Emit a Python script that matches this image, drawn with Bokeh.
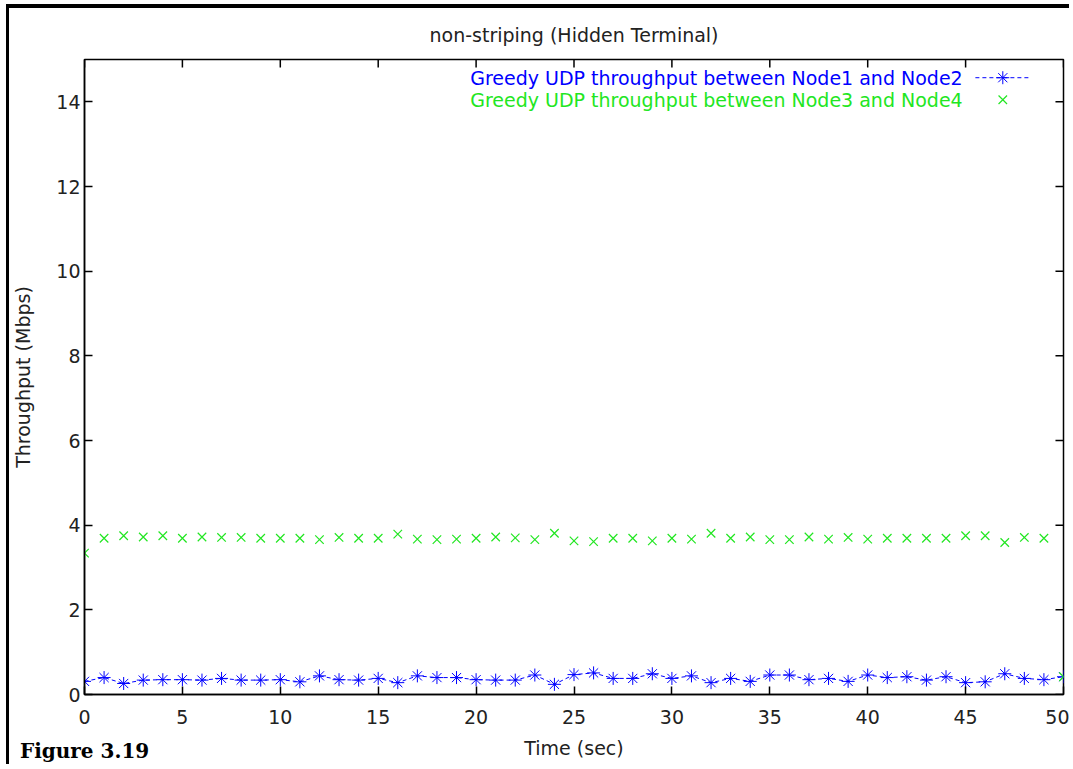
from bokeh.plotting import figure
from bokeh.models import FixedTicker, Range1d, Label, Div
from bokeh.layouts import column
from bokeh.embed import file_html
from bokeh.resources import INLINE

# ---- data ----
time_s = list(range(51))
node12 = [0.31, 0.40, 0.26, 0.34, 0.35, 0.35, 0.34, 0.38, 0.34, 0.34,
          0.35, 0.30, 0.44, 0.35, 0.34, 0.38, 0.28, 0.44, 0.40, 0.40,
          0.35, 0.34, 0.34, 0.46, 0.24, 0.47, 0.51, 0.38, 0.38, 0.49,
          0.38, 0.44, 0.28, 0.38, 0.31, 0.46, 0.46, 0.35, 0.38, 0.31,
          0.46, 0.40, 0.42, 0.34, 0.42, 0.28, 0.30, 0.49, 0.38, 0.35,
          0.42]
node34 = [3.34, 3.69, 3.75, 3.72, 3.75, 3.69, 3.72, 3.71, 3.71, 3.69,
          3.69, 3.69, 3.66, 3.71, 3.69, 3.69, 3.79, 3.67, 3.66, 3.67,
          3.69, 3.72, 3.70, 3.66, 3.81, 3.63, 3.61, 3.69, 3.69, 3.63,
          3.69, 3.67, 3.81, 3.69, 3.72, 3.66, 3.66, 3.72, 3.67, 3.71,
          3.67, 3.69, 3.69, 3.69, 3.69, 3.75, 3.75, 3.59, 3.71, 3.69,
          0.42]
x_ticks = [0, 5, 10, 15, 20, 25, 30, 35, 40, 45, 50]
y_ticks = [0, 2, 4, 6, 8, 10, 12, 14]
label1 = "Greedy UDP throughput between Node1 and Node2"
label2 = "Greedy UDP throughput between Node3 and Node4"
caption = "Figure 3.19"

X_MAX, Y_MAX = 50, 15
BLUE = "#0000ff"
GREEN = "#22e622"
FONT = "DejaVu Sans"
FS = "19px"
TXT = "#222222"

p = figure(width=1063, height=760, output_backend="svg", toolbar_location=None,
           x_range=Range1d(0, X_MAX), y_range=Range1d(0, Y_MAX),
           title="non-striping (Hidden Terminal)",
           min_border_left=75, min_border_right=9, min_border_top=49,
           min_border_bottom=74)
# scanned page border (left and top)
p.styles = {"margin-left": "6px", "margin-top": "4px",
            "border-left": "3px solid black", "border-top": "4px solid black"}

p.title.align = "center"
p.title.text_font = FONT
p.title.text_font_size = FS
p.title.text_font_style = "normal"
p.title.text_color = TXT
p.title.standoff = 27

p.xgrid.visible = False
p.ygrid.visible = False
p.outline_line_color = "black"
p.outline_line_width = 1.5

for ax in (p.xaxis[0], p.yaxis[0]):
    ax.major_tick_in = 8
    ax.major_tick_out = 0
    ax.minor_tick_line_color = None
    ax.axis_line_color = "black"
    ax.axis_line_width = 1.5
    ax.major_tick_line_width = 1.5
    ax.major_label_text_font = FONT
    ax.major_label_text_font_size = FS
    ax.major_label_text_color = TXT
    ax.axis_label_text_font = FONT
    ax.axis_label_text_font_size = FS
    ax.axis_label_text_font_style = "normal"
    ax.axis_label_text_color = TXT

p.xaxis[0].ticker = FixedTicker(ticks=x_ticks)
p.yaxis[0].ticker = FixedTicker(ticks=y_ticks)
p.xaxis[0].axis_label = "Time (sec)"
p.yaxis[0].axis_label = "Throughput (Mbps)"
p.xaxis[0].major_label_standoff = 15
p.xaxis[0].axis_label_standoff = 10
p.yaxis[0].major_label_standoff = 4
p.yaxis[0].axis_label_standoff = 19

# mirror ticks on top / right (gnuplot style)
tick_len_y = 0.19   # ~8px in y data units
tick_len_x = 0.41   # ~8px in x data units
p.segment(x0=x_ticks, y0=[Y_MAX] * len(x_ticks), x1=x_ticks,
          y1=[Y_MAX - tick_len_y] * len(x_ticks), line_color="black", line_width=1.5)
p.segment(x0=[X_MAX] * len(y_ticks), y0=y_ticks, x1=[X_MAX - tick_len_x] * len(y_ticks),
          y1=y_ticks, line_color="black", line_width=1.5)

# series
p.line(time_s, node12, line_color=BLUE, line_width=1, line_dash="4 3")
p.scatter(time_s, node12, marker="asterisk", size=13, line_color=BLUE, line_width=1)
p.scatter(time_s, node34, marker="x", size=12, line_color=GREEN, line_width=1.2)

# legend (gnuplot style: text right-aligned, key on the right)
lx_text, lx0, lx1, lxm = 44.85, 45.5, 48.3, 46.9
ly1, ly2 = 14.57, 14.05
p.add_layout(Label(x=lx_text, y=ly1, text=label1, text_align="right", text_baseline="middle",
                   text_color=BLUE, text_font=FONT, text_font_size=FS))
p.add_layout(Label(x=lx_text, y=ly2, text=label2, text_align="right", text_baseline="middle",
                   text_color=GREEN, text_font=FONT, text_font_size=FS))
p.line([lx0, lx1], [ly1, ly1], line_color=BLUE, line_width=1, line_dash="4 3")
p.scatter([lxm], [ly1], marker="asterisk", size=13, line_color=BLUE)
p.scatter([lxm], [ly2], marker="x", size=12, line_color=GREEN, line_width=1.2)

# figure caption (below the chart, left; overlaps the x-axis band like the scan)
cap = Div(text=caption, width=200, height=24,
          styles={"margin-top": "-25px", "margin-left": "20px",
                  "font-family": "DejaVu Serif", "font-weight": "bold",
                  "font-size": "20px", "color": "black", "line-height": "24px"})

layout = column(p, cap, spacing=0)
open("out.html", "w").write(file_html(layout, INLINE))
